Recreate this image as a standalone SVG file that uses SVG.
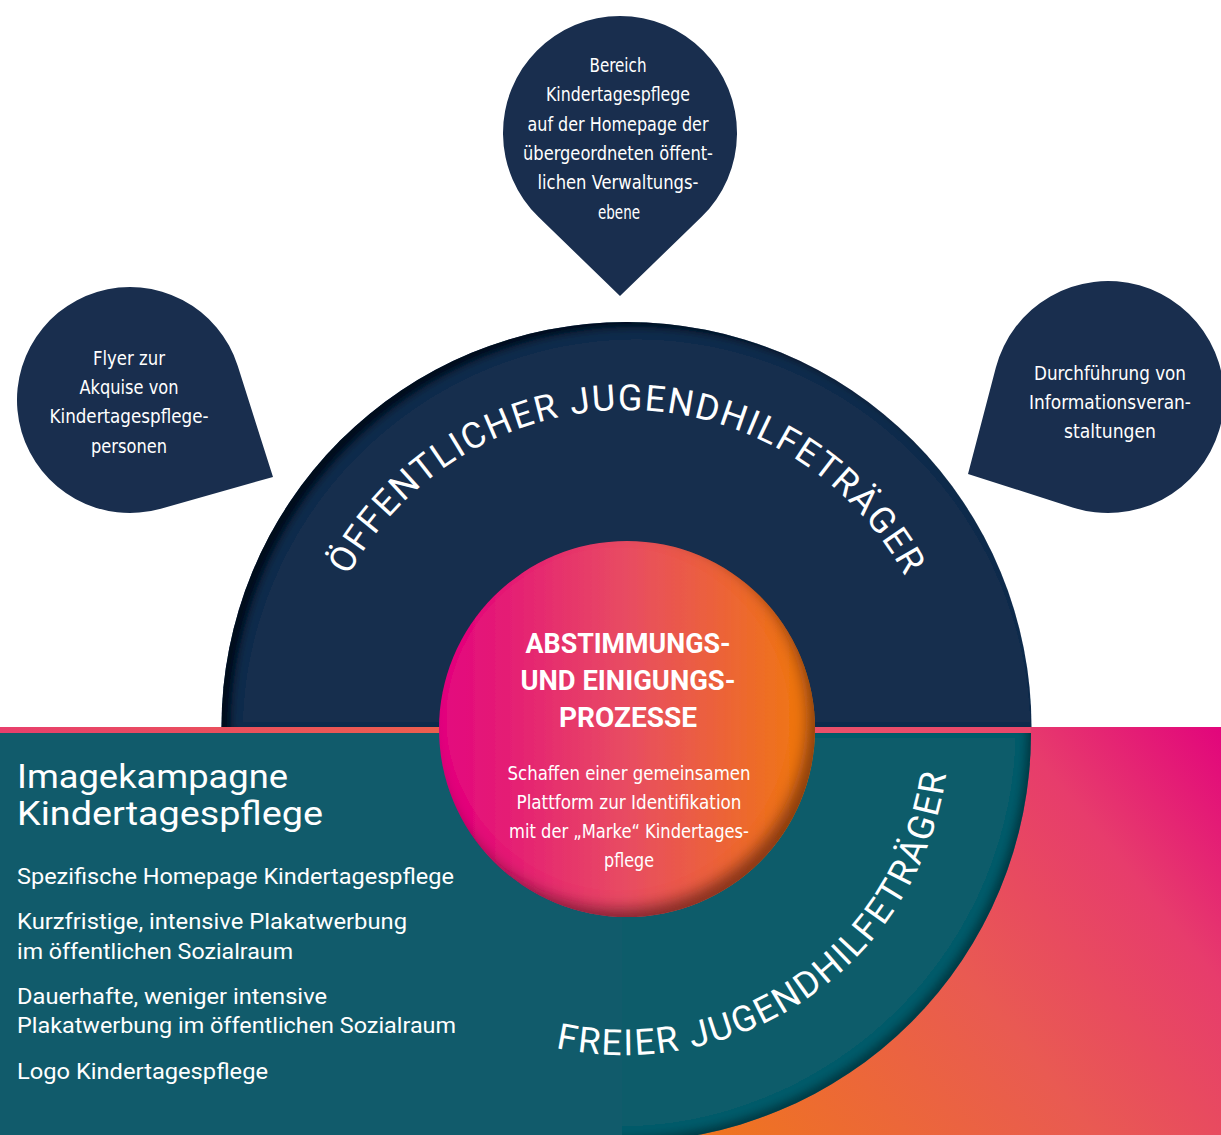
<svg xmlns="http://www.w3.org/2000/svg" width="1221" height="1135" viewBox="0 0 1221 1135">
  <defs>
    <style>
      .navy { fill: #192e4e; }
      .teal { fill: #115b6b; }
      .cond { font-family: "Liberation Sans Narrow", "DejaVu Sans Condensed", "Roboto Condensed", "Liberation Sans", sans-serif; font-stretch: condensed; font-size: 20px; fill: #ffffff; text-anchor: middle; }
      .title { font-family: "Roboto", "Liberation Sans", sans-serif; font-weight: 700; font-size: 28px; fill: #ffffff; text-anchor: middle; }
      .arc { font-family: "Roboto", "Liberation Sans", sans-serif; font-size: 36px; fill: #ffffff; }
      .head { font-family: "Roboto", "Liberation Sans", sans-serif; font-size: 33px; fill: #ffffff; }
      .item { font-family: "Roboto", "Liberation Sans", sans-serif; font-size: 22px; fill: #ffffff; }
    </style>
    <linearGradient id="bandGrad" gradientUnits="userSpaceOnUse" x1="720" y1="1135" x2="1221" y2="727">
      <stop offset="0" stop-color="#ef7420"/>
      <stop offset="0.45" stop-color="#e95a52"/>
      <stop offset="0.75" stop-color="#e73c6c"/>
      <stop offset="1" stop-color="#e2057c"/>
    </linearGradient>
    <linearGradient id="lineGrad" gradientUnits="userSpaceOnUse" x1="0" y1="0" x2="1031" y2="0">
      <stop offset="0" stop-color="#e83f6c"/>
      <stop offset="0.43" stop-color="#ec5f4e"/>
      <stop offset="0.8" stop-color="#e9506a"/>
      <stop offset="1" stop-color="#e8466a"/>
    </linearGradient>
    <linearGradient id="coreGrad" x1="0" y1="0" x2="1" y2="0">
      <stop offset="0" stop-color="#e3047f"/>
      <stop offset="0.5" stop-color="#e84c62"/>
      <stop offset="1" stop-color="#f07a0e"/>
    </linearGradient>
    <filter id="shadeTopLeft" x="-5%" y="-5%" width="110%" height="110%">
      <feComponentTransfer in="SourceAlpha" result="inv"><feFuncA type="table" tableValues="1 0"/></feComponentTransfer>
      <feOffset in="inv" dx="10" dy="6" result="off"/>
      <feGaussianBlur in="off" stdDeviation="5" result="blur"/>
      <feFlood flood-color="#000000" flood-opacity="0.85"/>
      <feComposite in2="blur" operator="in" result="sh"/>
      <feComposite in="sh" in2="SourceAlpha" operator="in" result="shIn"/>
      <feMerge><feMergeNode in="SourceGraphic"/><feMergeNode in="shIn"/></feMerge>
    </filter>
    <filter id="shadeBottomRight" x="-5%" y="-5%" width="110%" height="110%">
      <feComponentTransfer in="SourceAlpha" result="inv"><feFuncA type="table" tableValues="1 0"/></feComponentTransfer>
      <feOffset in="inv" dx="-5" dy="-5" result="off"/>
      <feGaussianBlur in="off" stdDeviation="4" result="blur"/>
      <feFlood flood-color="#000000" flood-opacity="0.6"/>
      <feComposite in2="blur" operator="in" result="sh"/>
      <feComposite in="sh" in2="SourceAlpha" operator="in" result="shIn"/>
      <feMerge><feMergeNode in="SourceGraphic"/><feMergeNode in="shIn"/></feMerge>
    </filter>
    <filter id="shadeCore" x="-10%" y="-10%" width="120%" height="120%">
      <feComponentTransfer in="SourceAlpha" result="inv"><feFuncA type="table" tableValues="1 0"/></feComponentTransfer>
      <feOffset in="inv" dx="-9" dy="-10" result="off"/>
      <feGaussianBlur in="off" stdDeviation="7" result="blur"/>
      <feFlood flood-color="#4a1010" flood-opacity="0.75"/>
      <feComposite in2="blur" operator="in" result="sh"/>
      <feComposite in="sh" in2="SourceAlpha" operator="in" result="shIn"/>
      <feMerge><feMergeNode in="SourceGraphic"/><feMergeNode in="shIn"/></feMerge>
    </filter>
    <!-- text baselines: upper ring r=316, lower ring r=325 -->
    <path id="arcTop" d="M 310.5 726 A 316 316 0 0 1 942.5 726"/>
    <path id="arcBottom" d="M 342.5 892.5 A 325 325 0 0 0 929.4 618.9"/>
  </defs>

  <rect x="0" y="0" width="1221" height="1135" fill="#ffffff"/>

  <!-- lower band: gradient field, teal half ring, teal panel, divider line -->
  <g id="band">
    <rect x="622" y="727" width="599" height="408" fill="url(#bandGrad)"/>
    <path class="teal" d="M 213 733 A 409 409 0 0 0 1031 733 Z" filter="url(#shadeBottomRight)"/>
    <rect class="teal" x="0" y="733" width="622" height="402"/>
    <rect x="0" y="727" width="1031" height="6" fill="url(#lineGrad)"/>
  </g>

  <!-- upper half ring -->
  <g id="ring-public">
    <path class="navy" d="M 221.5 727 A 405 405 0 0 1 1031.5 727 Z" filter="url(#shadeTopLeft)"/>
    <text class="arc"><textPath href="#arcTop" startOffset="50%" text-anchor="middle" textLength="680" lengthAdjust="spacing">ÖFFENTLICHER JUGENDHILFETRÄGER</textPath></text>
  </g>

  <g id="ring-free">
    <text class="arc"><textPath href="#arcBottom" startOffset="55.9%" text-anchor="middle" textLength="535" lengthAdjust="spacing">FREIER JUGENDHILFETRÄGER</textPath></text>
  </g>

  <!-- core circle -->
  <g id="core">
    <circle cx="627" cy="729" r="188" fill="url(#coreGrad)" filter="url(#shadeCore)"/>
    <text class="title" x="628" y="653" textLength="205" lengthAdjust="spacingAndGlyphs">ABSTIMMUNGS-</text>
    <text class="title" x="628" y="690" textLength="215" lengthAdjust="spacingAndGlyphs">UND EINIGUNGS-</text>
    <text class="title" x="628" y="727" textLength="138" lengthAdjust="spacingAndGlyphs">PROZESSE</text>
    <text class="cond" x="629" y="780" textLength="243" lengthAdjust="spacingAndGlyphs">Schaffen einer gemeinsamen</text>
    <text class="cond" x="629" y="809" textLength="225" lengthAdjust="spacingAndGlyphs">Plattform zur Identifikation</text>
    <text class="cond" x="629" y="838" textLength="240" lengthAdjust="spacingAndGlyphs">mit der „Marke“ Kindertages-</text>
    <text class="cond" x="629" y="867" textLength="50" lengthAdjust="spacingAndGlyphs">pflege</text>
  </g>

  <!-- callout bubbles -->
  <g id="bubble-top">
    <path class="navy" d="M 620 296 L 538.6 217 A 117 117 0 1 1 701.4 217 Z"/>
    <text class="cond" x="618" y="72" textLength="57" lengthAdjust="spacingAndGlyphs">Bereich</text>
    <text class="cond" x="618" y="101" textLength="144" lengthAdjust="spacingAndGlyphs">Kindertagespflege</text>
    <text class="cond" x="618" y="131" textLength="181" lengthAdjust="spacingAndGlyphs">auf der Homepage der</text>
    <text class="cond" x="618" y="160" textLength="190" lengthAdjust="spacingAndGlyphs">übergeordneten öffent-</text>
    <text class="cond" x="618" y="189" textLength="161" lengthAdjust="spacingAndGlyphs">lichen Verwaltungs-</text>
    <text class="cond" x="619" y="219" textLength="42" lengthAdjust="spacingAndGlyphs">ebene</text>
  </g>

  <g id="bubble-left">
    <path class="navy" d="M 273 477 L 160.8 508.7 A 113 113 0 1 1 237.7 365.8 Z"/>
    <text class="cond" x="129" y="365" textLength="72" lengthAdjust="spacingAndGlyphs">Flyer zur</text>
    <text class="cond" x="129" y="394" textLength="99" lengthAdjust="spacingAndGlyphs">Akquise von</text>
    <text class="cond" x="129" y="423" textLength="159" lengthAdjust="spacingAndGlyphs">Kindertagespflege-</text>
    <text class="cond" x="129" y="453" textLength="76" lengthAdjust="spacingAndGlyphs">personen</text>
  </g>

  <g id="bubble-right">
    <path class="navy" d="M 968 474 L 995.8 367.7 A 116 116 0 1 1 1072.6 507.5 Z"/>
    <text class="cond" x="1110" y="380" textLength="152" lengthAdjust="spacingAndGlyphs">Durchführung von</text>
    <text class="cond" x="1110" y="409" textLength="162" lengthAdjust="spacingAndGlyphs">Informationsveran-</text>
    <text class="cond" x="1110" y="438" textLength="92" lengthAdjust="spacingAndGlyphs">staltungen</text>
  </g>

  <!-- campaign list on the teal panel -->
  <g id="campaign">
    <text class="head" x="17" y="788" textLength="271" lengthAdjust="spacingAndGlyphs">Imagekampagne</text>
    <text class="head" x="17" y="825" textLength="306" lengthAdjust="spacingAndGlyphs">Kindertagespflege</text>
    <text class="item" x="17" y="884" textLength="437" lengthAdjust="spacingAndGlyphs">Spezifische Homepage Kindertagespflege</text>
    <text class="item" x="17" y="929" textLength="390" lengthAdjust="spacingAndGlyphs">Kurzfristige, intensive Plakatwerbung</text>
    <text class="item" x="17" y="959" textLength="276" lengthAdjust="spacingAndGlyphs">im öffentlichen Sozialraum</text>
    <text class="item" x="17" y="1004" textLength="310" lengthAdjust="spacingAndGlyphs">Dauerhafte, weniger intensive</text>
    <text class="item" x="17" y="1033" textLength="439" lengthAdjust="spacingAndGlyphs">Plakatwerbung im öffentlichen Sozialraum</text>
    <text class="item" x="17" y="1079" textLength="251" lengthAdjust="spacingAndGlyphs">Logo Kindertagespflege</text>
  </g>
</svg>
